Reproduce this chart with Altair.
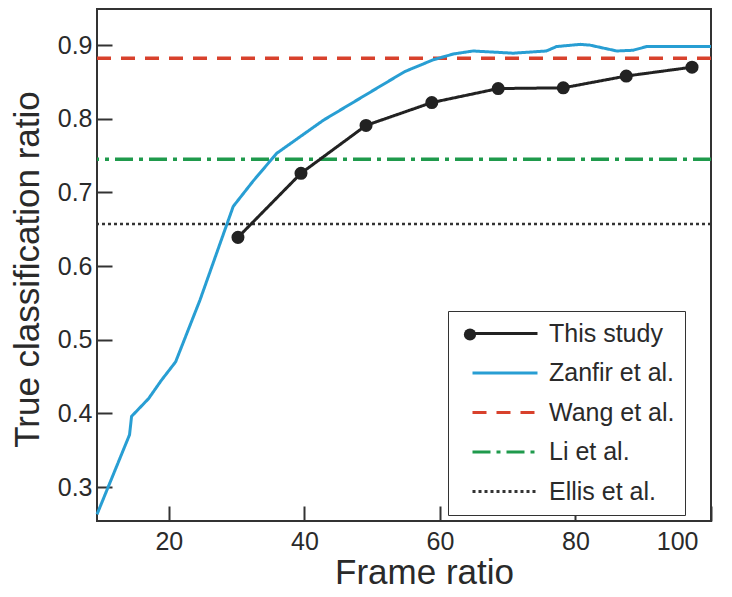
import altair as alt
import pandas as pd

# ---- data ----
series_names = ["This study", "Zanfir et al.", "Wang et al.", "Li et al.", "Ellis et al."]
series_colors = ["#222222", "#289ed3", "#d8412c", "#1f9a4c", "#333333"]
series_dashes = [[1, 0], [1, 0], [14, 10], [18, 6, 4, 6], [3, 3]]

study_x = [30.2, 39.5, 49.1, 58.8, 68.6, 78.2, 87.5, 97.2]
study_y = [0.639, 0.726, 0.791, 0.822, 0.841, 0.842, 0.858, 0.870]

zanfir_x = [9.4, 14.2, 14.5, 17.0, 18.9, 21.0, 24.6, 29.5, 32.4, 35.9, 42.8, 47.7,
            54.8, 59.0, 62.0, 64.9, 70.8, 75.7, 77.2, 80.7, 82.1, 86.1, 88.5, 90.5, 100.0]
zanfir_y = [0.263, 0.371, 0.396, 0.420, 0.445, 0.470, 0.554, 0.681, 0.715, 0.753, 0.798, 0.825,
            0.864, 0.880, 0.888, 0.892, 0.889, 0.892, 0.898, 0.901, 0.900, 0.892, 0.893, 0.898, 0.898]

ref_names = ["Wang et al.", "Li et al.", "Ellis et al."]
ref_values = [0.882, 0.745, 0.657]

x_ticks = [20, 40, 60, 80, 100]
y_ticks = [0.3, 0.4, 0.5, 0.6, 0.7, 0.8, 0.9]
x_domain = [9.4, 100]
y_domain = [0.254, 0.949]

# ---- tables ----
study_df = pd.DataFrame({"x": study_x, "y": study_y, "series": "This study", "marker": "This study"})
zanfir_df = pd.DataFrame({"x": zanfir_x, "y": zanfir_y, "series": "Zanfir et al."})
ref_df = pd.DataFrame({"y": ref_values, "series": ref_names})

FONT = "Liberation Sans"
TXT = "#2a2a2a"

x_enc = alt.X("x:Q", scale=alt.Scale(domain=x_domain, nice=False, zero=False),
              axis=alt.Axis(values=x_ticks, title="Frame ratio", offset=-15, tickSize=15,
                            domain=False, grid=False, labelFontSize=25, labelPadding=8,
                            labelFlush=True, labelFlushOffset=-13,
                            titleFontSize=35, titleFontWeight="normal", titleX=327, titleY=77,
                            titleBaseline="alphabetic", titleAlign="center"))
y_enc = alt.Y("y:Q", scale=alt.Scale(domain=y_domain, nice=False, zero=False),
              axis=alt.Axis(values=y_ticks, format=".1f", title="True classification ratio",
                            offset=-15, tickSize=15, domain=False, grid=False,
                            labelFontSize=25, labelPadding=5,
                            titleFontSize=35, titleFontWeight="normal", titleX=-74, titleY=260,
                            titleBaseline="alphabetic", titleAlign="center", titleAngle=270))

legend_main = alt.Legend(orient="none", legendX=351, legendY=302, title=None,
                         labelFontSize=25, labelFont=FONT, labelColor=TXT,
                         symbolType="M-5,0H5", symbolSize=169, symbolStrokeWidth=3,
                         rowPadding=13.5, padding=10, symbolOffset=34.5, labelOffset=31.5,
                         strokeColor="#333333", fillColor="white", zindex=0)

color_enc = alt.Color("series:N", scale=alt.Scale(domain=series_names, range=series_colors),
                      legend=legend_main)
dash_enc = alt.StrokeDash("series:N", scale=alt.Scale(domain=series_names, range=series_dashes),
                          legend=legend_main)

rules_thick = alt.Chart(ref_df).transform_filter(
    alt.datum.series != "Ellis et al."
).mark_rule(strokeWidth=3.5).encode(y=y_enc, color=color_enc, strokeDash=dash_enc)

rules_dot = alt.Chart(ref_df).transform_filter(
    alt.datum.series == "Ellis et al."
).mark_rule(strokeWidth=2.5).encode(y=y_enc, color=color_enc, strokeDash=dash_enc)

blue = alt.Chart(zanfir_df).mark_line(strokeWidth=3).encode(
    x=x_enc, y=y_enc, color=color_enc, strokeDash=dash_enc)

black = alt.Chart(study_df).mark_line(strokeWidth=3).encode(
    x=x_enc, y=y_enc, color=color_enc, strokeDash=dash_enc)

dots = alt.Chart(study_df).mark_point(filled=True, size=170, opacity=1, color="#222222").encode(
    x=x_enc, y=y_enc,
    shape=alt.Shape("marker:N", scale=alt.Scale(domain=["This study"], range=["circle"]),
                    legend=alt.Legend(orient="none", legendX=347, legendY=303, title=None,
                                      padding=10, symbolOffset=3.5, symbolSize=150,
                                      symbolFillColor="#222222", symbolStrokeColor="#222222",
                                      symbolStrokeWidth=0, labelFontSize=25, labelOpacity=0,
                                      zindex=1)))

chart = alt.layer(rules_thick, rules_dot, blue, black, dots).properties(
    width=614, height=512,
    autosize=alt.AutoSizeParams(type="none"),
    padding={"left": 89, "top": 1, "right": 11, "bottom": 68},
).configure_view(
    stroke="#333333", strokeWidth=2
).configure_axis(
    labelFont=FONT, titleFont=FONT, labelColor=TXT, titleColor=TXT,
    tickColor="#333333", tickWidth=2
).configure_legend(
    labelFont=FONT
)

chart.save("out.html", embed_options={"renderer": "svg", "actions": False})
